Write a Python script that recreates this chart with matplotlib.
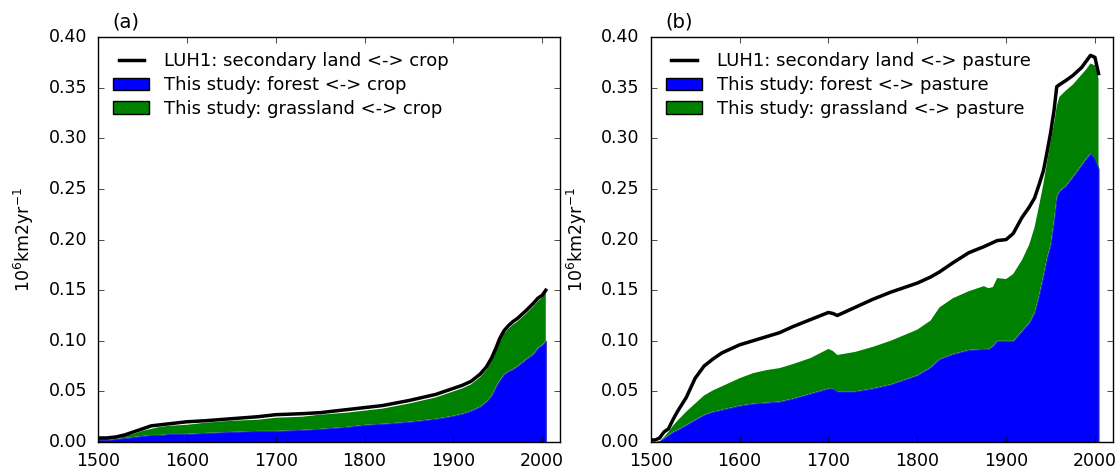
import numpy as np
import matplotlib
matplotlib.use("Agg")
import matplotlib.pyplot as plt
from matplotlib.patches import Patch
from matplotlib.lines import Line2D

# ---- (a) crop ----
years_a = [1500, 1510, 1520, 1530, 1540, 1550, 1560, 1570, 1580, 1600, 1620, 1650,
           1680, 1700, 1730, 1750, 1780, 1800, 1820, 1850, 1870, 1880, 1900, 1910,
           1920, 1930, 1937, 1943, 1948, 1952, 1957, 1962, 1967, 1972, 1982, 1990,
           1995, 2000, 2004]
luh_crop = [0.004, 0.004, 0.005, 0.007, 0.010, 0.013, 0.016, 0.017, 0.018, 0.020,
            0.021, 0.023, 0.025, 0.027, 0.028, 0.029, 0.032, 0.034, 0.036, 0.041,
            0.045, 0.047, 0.053, 0.056, 0.060, 0.067, 0.074, 0.083, 0.093, 0.102,
            0.110, 0.115, 0.119, 0.122, 0.130, 0.137, 0.142, 0.145, 0.150]
total_crop = [0.003, 0.003, 0.004, 0.006, 0.008, 0.011, 0.013, 0.015, 0.016, 0.017,
              0.019, 0.021, 0.022, 0.024, 0.025, 0.027, 0.029, 0.031, 0.033, 0.038,
              0.042, 0.044, 0.050, 0.053, 0.057, 0.064, 0.071, 0.080, 0.090, 0.099,
              0.107, 0.112, 0.116, 0.119, 0.127, 0.134, 0.139, 0.143, 0.148]
forest_crop = [0.002, 0.002, 0.003, 0.004, 0.005, 0.006, 0.007, 0.007, 0.008, 0.008,
               0.009, 0.010, 0.011, 0.011, 0.012, 0.013, 0.015, 0.017, 0.018, 0.020,
               0.022, 0.023, 0.026, 0.028, 0.031, 0.035, 0.040, 0.046, 0.055, 0.061,
               0.067, 0.070, 0.072, 0.075, 0.082, 0.087, 0.093, 0.096, 0.100]

# ---- (b) pasture ----
years_b = [1500, 1505, 1510, 1515, 1520, 1525, 1530, 1540, 1550, 1560, 1570, 1580,
           1590, 1600, 1615, 1630, 1645, 1660, 1680, 1700, 1705, 1710, 1730, 1750,
           1770, 1800, 1815, 1825, 1840, 1858, 1875, 1880, 1885, 1890, 1900, 1908,
           1918, 1926, 1932, 1937, 1942, 1946, 1950, 1954, 1957, 1960, 1967, 1975,
           1985, 1990, 1995, 2000, 2004]
luh_past = [0.002, 0.002, 0.004, 0.010, 0.013, 0.022, 0.030, 0.044, 0.063, 0.075,
            0.082, 0.088, 0.092, 0.096, 0.100, 0.104, 0.108, 0.114, 0.121, 0.128,
            0.127, 0.125, 0.133, 0.141, 0.148, 0.157, 0.163, 0.168, 0.177, 0.187,
            0.193, 0.195, 0.197, 0.199, 0.200, 0.206, 0.222, 0.232, 0.241, 0.254,
            0.268, 0.286, 0.305, 0.328, 0.351, 0.353, 0.357, 0.362, 0.370, 0.376,
            0.382, 0.380, 0.364]
total_past = [0.000, 0.000, 0.001, 0.005, 0.010, 0.016, 0.021, 0.030, 0.038, 0.046,
              0.051, 0.055, 0.059, 0.063, 0.068, 0.071, 0.073, 0.077, 0.083, 0.092,
              0.090, 0.086, 0.089, 0.094, 0.100, 0.111, 0.120, 0.133, 0.142, 0.149,
              0.154, 0.152, 0.153, 0.162, 0.161, 0.166, 0.180, 0.195, 0.212, 0.233,
              0.255, 0.276, 0.296, 0.315, 0.332, 0.341, 0.347, 0.353, 0.363, 0.368,
              0.374, 0.372, 0.359]
forest_past = [0.000, 0.000, 0.001, 0.004, 0.007, 0.010, 0.012, 0.017, 0.022, 0.027,
               0.030, 0.032, 0.034, 0.036, 0.038, 0.039, 0.040, 0.043, 0.048, 0.053,
               0.053, 0.050, 0.050, 0.053, 0.057, 0.066, 0.074, 0.082, 0.087, 0.091,
               0.092, 0.092, 0.095, 0.100, 0.100, 0.100, 0.110, 0.118, 0.128, 0.145,
               0.165, 0.182, 0.195, 0.220, 0.243, 0.248, 0.253, 0.262, 0.274, 0.280,
               0.285, 0.280, 0.270]

plt.style.use("classic")
plt.rcParams["font.family"] = "DejaVu Sans"
plt.rcParams["mathtext.fontset"] = "dejavusans"

fig = plt.figure(figsize=(11.2, 4.73), dpi=100, facecolor="white")
ax_a = fig.add_axes([0.0875, 0.0655, 0.4125, 0.856])
ax_b = fig.add_axes([0.581, 0.0655, 0.4125, 0.856])

panels = [
    (ax_a, "(a)", "crop", years_a, luh_crop, total_crop, forest_crop),
    (ax_b, "(b)", "pasture", years_b, luh_past, total_past, forest_past),
]

for ax, tag, kind, yrs, luh, tot, forest in panels:
    ax.fill_between(yrs, 0, forest, facecolor="#0000ff", edgecolor="#2a2ad0",
                    linewidth=0.8)
    ax.fill_between(yrs, forest, tot, facecolor="#008000", edgecolor="none")
    ax.plot(yrs, luh, color="k", linewidth=2.5)

    ax.set_xlim(1500, 2020)
    ax.set_ylim(0, 0.40)
    ax.set_xticks(np.arange(1500, 2001, 100))
    ax.set_yticks(np.arange(0, 0.401, 0.05))
    ax.yaxis.set_major_formatter(matplotlib.ticker.FormatStrFormatter("%.2f"))
    ax.tick_params(labelsize=12.5)
    ax.tick_params(axis="x", pad=7)
    ax.tick_params(axis="y", pad=8)
    ax.set_ylabel(r"$10^6$km2yr$^{-1}$", fontsize=12.5, labelpad=9)
    ax.text(0.032, 1.025, tag, transform=ax.transAxes, fontsize=14)

    handles = [
        Line2D([], [], color="k", linewidth=2.5),
        Patch(facecolor="#0000ff", edgecolor="k"),
        Patch(facecolor="#008000", edgecolor="k"),
    ]
    labels = [
        f"LUH1: secondary land <-> {kind}",
        f"This study: forest <-> {kind}",
        f"This study: grassland <-> {kind}",
    ]
    ax.legend(handles, labels, loc="upper left", frameon=False, fontsize=13,
              labelspacing=0.32, handlelength=2.0, handletextpad=0.8,
              borderaxespad=0.5, borderpad=0.35)

fig.savefig("out.png", dpi=100, facecolor="white")
